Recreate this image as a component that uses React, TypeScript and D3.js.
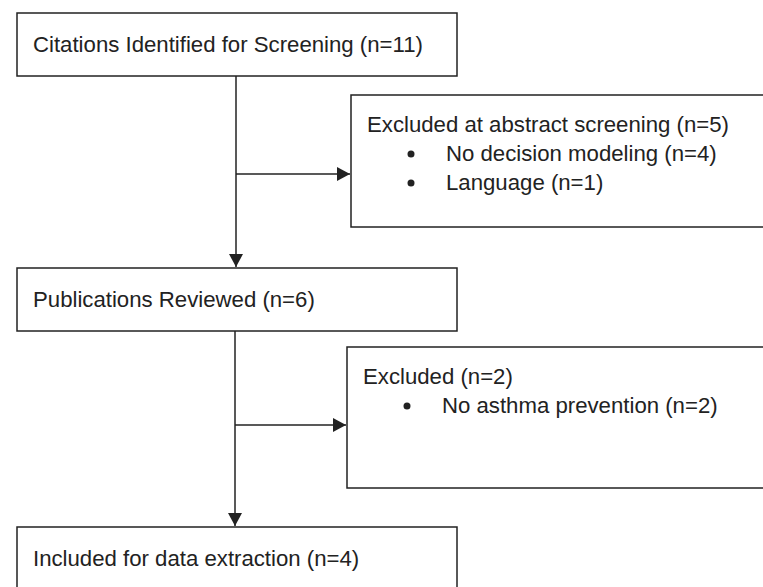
import React from "react";
import * as d3 from "d3";

const stageLabels = [
  "Citations Identified for Screening (n=11)",
  "Publications Reviewed (n=6)",
  "Included for data extraction (n=4)",
];
const stageTops = [13, 268, 527];
const stageBottoms = [76, 331, 600];

const exclusionTitles = ["Excluded at abstract screening (n=5)", "Excluded (n=2)"];
const exclusionReasons = [
  ["No decision modeling (n=4)", "Language (n=1)"],
  ["No asthma prevention (n=2)"],
];
const exclusionTops = [95, 347];
const exclusionBottoms = [227, 488];
const exclusionLefts = [351, 347];
const branchY = [174, 425];
const trunkX = [236, 235];

const W = 763;
const H = 587;
const FONT = "'Liberation Sans', Arial, sans-serif";
const STROKE = "#222";
const FS = 22.2;

export default function App() {
  const line = d3.line<[number, number]>();
  const arrowHead = (x: number, y: number, dir: "down" | "right") => {
    const p = d3.path();
    if (dir === "down") {
      p.moveTo(x - 7, y - 13);
      p.lineTo(x + 7, y - 13);
      p.lineTo(x, y);
    } else {
      p.moveTo(x - 13, y - 7);
      p.lineTo(x - 13, y + 7);
      p.lineTo(x, y);
    }
    p.closePath();
    return p.toString();
  };

  return (
    <svg
      width={W}
      height={H}
      style={{ position: "absolute", left: 0, top: 0, background: "#fff" }}
      fontFamily={FONT}
    >
      <rect x={0} y={0} width={W} height={H} fill="#fff" />
      {stageLabels.map((lab, i) => (
        <g key={lab}>
          <rect
            x={17}
            y={stageTops[i]}
            width={440}
            height={stageBottoms[i] - stageTops[i]}
            fill="#fff"
            stroke={STROKE}
            strokeWidth={1.5}
          />
          <text x={33} y={stageTops[i] + 38.5} fontSize={FS} fill="#222">
            {lab}
          </text>
        </g>
      ))}
      {exclusionTitles.map((t, i) => {
        const left = exclusionLefts[i];
        const top = exclusionTops[i];
        return (
          <g key={t}>
            <path
              d={line([
                [trunkX[i], stageBottoms[i]],
                [trunkX[i], stageTops[i + 1] - 1],
              ]) as string}
              stroke={STROKE}
              strokeWidth={1.5}
              fill="none"
            />
            <path d={arrowHead(trunkX[i], stageTops[i + 1] - 1, "down")} fill={STROKE} />
            <path
              d={line([
                [trunkX[i], branchY[i]],
                [left - 1, branchY[i]],
              ]) as string}
              stroke={STROKE}
              strokeWidth={1.5}
              fill="none"
            />
            <path d={arrowHead(left - 1, branchY[i], "right")} fill={STROKE} />
            <rect
              x={left}
              y={top}
              width={W + 20 - left}
              height={exclusionBottoms[i] - top}
              fill="#fff"
              stroke={STROKE}
              strokeWidth={1.5}
            />
            <text x={left + 16} y={top + 36.5} fontSize={FS} fill="#222">
              {t}
            </text>
            {exclusionReasons[i].map((r, j) => (
              <g key={r}>
                <circle cx={left + 60} cy={top + 36.5 + 29 * (j + 1) - 6.5} r={3.5} fill="#222" />
                <text x={left + 95} y={top + 36.5 + 29 * (j + 1)} fontSize={FS} fill="#222">
                  {r}
                </text>
              </g>
            ))}
          </g>
        );
      })}
    </svg>
  );
}
